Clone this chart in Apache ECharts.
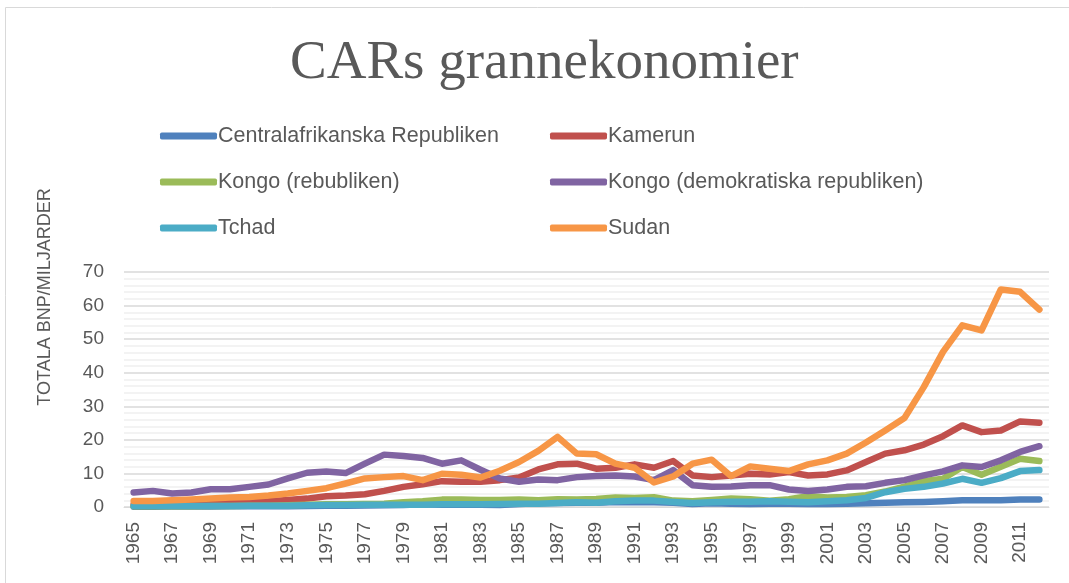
<!DOCTYPE html>
<html>
<head>
<meta charset="utf-8">
<script src="https://cdn.jsdelivr.net/npm/echarts@6/dist/echarts.min.js"></script>
<style>html,body{margin:0;padding:0;background:#fff;}#c{width:1069px;height:583px;}</style>
</head>
<body>
<div id="c"></div>
<script>
const years = [];
for (let y = 1965; y <= 2012; y++) years.push(String(y));

const seriesNames = ['Centralafrikanska Republiken', 'Kamerun', 'Kongo (rebubliken)', 'Kongo (demokratiska republiken)', 'Tchad', 'Sudan'];

const car = [0.1,0.1,0.15,0.15,0.15,0.2,0.2,0.2,0.25,0.3,0.35,0.4,0.45,0.5,0.6,0.8,0.7,0.7,0.7,0.6,0.9,1.1,1.2,1.3,1.3,1.5,1.4,1.4,1.3,0.9,1.1,1.0,0.9,1.0,1.0,0.9,0.9,1.0,1.1,1.3,1.4,1.5,1.7,2.0,2.0,2.0,2.2,2.2];
const kamerun = [0.8,0.9,1.0,1.1,1.2,1.3,1.5,1.7,2.1,2.5,3.2,3.4,3.8,4.8,6.0,6.8,7.7,7.5,7.5,8.0,8.8,11.2,12.7,12.9,11.4,11.7,12.7,11.7,13.7,9.4,8.9,9.4,9.9,9.7,10.4,9.4,9.7,10.9,13.4,15.9,16.9,18.6,21.1,24.3,22.3,22.8,25.5,25.1];
const kongoRep = [0.2,0.2,0.2,0.25,0.3,0.3,0.35,0.4,0.5,0.7,0.8,0.8,0.9,1.0,1.4,1.7,2.2,2.2,2.1,2.1,2.2,2.0,2.3,2.2,2.4,2.8,2.7,2.9,1.9,1.7,2.1,2.5,2.3,1.9,2.3,3.2,2.8,3.0,3.5,4.6,6.1,7.7,8.4,11.9,9.6,12.0,14.4,13.7];
const kongoDem = [4.3,4.8,4.0,4.3,5.3,5.3,6.0,6.7,8.5,10.2,10.6,10.1,12.9,15.6,15.2,14.6,12.9,13.9,11.1,8.5,7.5,8.2,8.0,8.9,9.2,9.4,9.1,8.0,11.0,6.5,6.0,6.1,6.5,6.5,5.2,4.8,5.2,6.0,6.2,7.2,8.0,9.4,10.6,12.4,11.9,13.9,16.4,18.1];
const tchad = [0.3,0.3,0.3,0.3,0.3,0.3,0.35,0.4,0.4,0.5,0.6,0.6,0.7,0.7,0.7,0.7,0.8,0.8,0.8,0.9,1.0,1.0,1.2,1.4,1.3,1.7,1.9,1.9,1.5,1.2,1.4,1.6,1.6,1.7,1.6,1.4,1.7,2.0,2.7,4.4,5.4,6.0,7.0,8.4,7.2,8.6,10.7,11.0];
const sudan = [1.8,1.8,2.0,2.2,2.5,2.8,3.0,3.4,4.0,4.8,5.6,7.0,8.5,8.9,9.2,8.0,9.9,9.6,8.8,10.8,13.4,16.7,20.9,15.9,15.7,12.9,11.7,7.3,9.1,12.9,14.1,9.2,12.1,11.4,10.7,12.7,13.9,15.9,19.2,22.8,26.5,35.7,46.2,54.1,52.6,64.8,64.1,58.8];

const seriesData = [car, kamerun, kongoRep, kongoDem, tchad, sudan];
const colors = ['#4f81bd', '#c0504d', '#9bbb59', '#8064a2', '#4bacc6', '#f79646'];

const textColor = '#595959';
const sansFont = "'Liberation Sans', sans-serif";

const chart = echarts.init(document.getElementById('c'), null, {renderer: 'canvas'});

const legendBase = {
  orient: 'vertical',
  itemWidth: 57,
  itemHeight: 7,
  itemGap: 24,
  icon: 'roundRect',
  textStyle: {color: textColor, fontSize: 21.5, fontFamily: sansFont, padding: [0,0,0,-4]},
  top: 120
};

chart.setOption({
  animation: false,
  color: colors,
  title: {
    text: 'CARs grannekonomier',
    left: 285,
    top: 31,
    textStyle: {color: textColor, fontSize: 55, fontWeight: 'normal', fontFamily: "'Liberation Serif', serif"}
  },
  legend: [
    Object.assign({}, legendBase, {left: 155, data: [seriesNames[0], seriesNames[2], seriesNames[4]]}),
    Object.assign({}, legendBase, {left: 545, data: [seriesNames[1], seriesNames[3], seriesNames[5]]})
  ],
  graphic: [
    {type: 'rect', shape: {x: 5.5, y: 7.5, width: 1100, height: 600}, style: {fill: 'none', stroke: '#d9d9d9', lineWidth: 1}, silent: true, z: -10},
    {type: 'text', x: 45, y: 297, rotation: Math.PI / 2,
     style: {text: 'TOTALA BNP/MILJARDER', fill: textColor, fontSize: 18, fontFamily: sansFont, align: 'center', verticalAlign: 'middle'}}
  ],
  grid: {left: 124, right: 20, top: 272, bottom: 76, containLabel: false},
  xAxis: {
    type: 'category',
    data: years,
    boundaryGap: true,
    axisLine: {lineStyle: {color: '#d9d9d9', width: 1}},
    axisTick: {show: false},
    axisLabel: {interval: 1, rotate: 90, color: textColor, fontSize: 19, fontFamily: sansFont, margin: 15}
  },
  yAxis: {
    type: 'value',
    min: 0,
    max: 70,
    interval: 10,
    axisLine: {show: false},
    axisTick: {show: false},
    axisLabel: {color: textColor, fontSize: 19, fontFamily: sansFont, margin: 20},
    splitLine: {lineStyle: {color: '#d9d9d9', width: 1.5}},
    minorTick: {show: false, splitNumber: 5},
    minorSplitLine: {show: true, lineStyle: {color: '#efefef', width: 1.5}}
  },
  series: seriesNames.map((n, i) => ({
    name: n,
    type: 'line',
    data: seriesData[i],
    symbol: 'none',
    lineStyle: {width: 6.5, cap: 'round', join: 'round', color: colors[i]},
    z: 2 + i
  }))
});
</script>
</body>
</html>
